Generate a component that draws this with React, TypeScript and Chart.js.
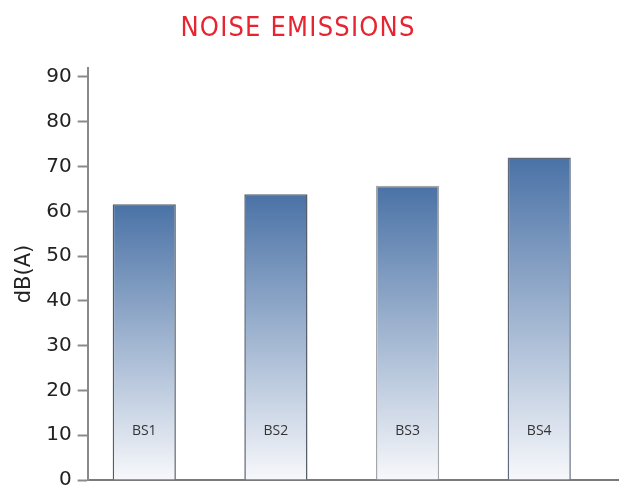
import { useEffect, useRef } from "react";
import { Chart, registerables } from "chart.js";

Chart.register(...registerables);

const chartTitle = "NOISE EMISSIONS";
const yAxisTitle = "dB(A)";
const categories = ["BS1", "BS2", "BS3", "BS4"];
const noiseValues = [61.6, 63.8, 65.7, 72.0];
const yMin = 0;
const yMax = 92;
const yStep = 10;
const barBorderColors = ["#555d69", "#555d69", "#a3a6aa", "#5f6b7c"];

const titlePlugin = {
  id: "pageTitle",
  afterDraw(chart: any) {
    const { ctx } = chart;
    ctx.save();
    ctx.font = '27px "Liberation Sans Narrow", "DejaVu Sans Condensed", sans-serif';
    try {
      (ctx as any).letterSpacing = "1.2px";
    } catch (e) {}
    ctx.fillStyle = "#e62530";
    ctx.textAlign = "center";
    ctx.textBaseline = "alphabetic";
    ctx.fillText(chartTitle, 298, 36);
    ctx.restore();
  },
};

const barLabelPlugin = {
  id: "barLabels",
  afterDatasetsDraw(chart: any) {
    const { ctx, scales } = chart;
    const meta = chart.getDatasetMeta(0);
    const y = scales.y.getPixelForValue(10) - 4;
    ctx.save();
    ctx.font = '14px "Open Sans", "DejaVu Sans", sans-serif';
    ctx.fillStyle = "#333333";
    ctx.textAlign = "center";
    ctx.textBaseline = "middle";
    meta.data.forEach((bar: any, i: number) => {
      ctx.fillText(categories[i], bar.x, y);
    });
    ctx.restore();
  },
};

export default function App() {
  const canvasRef = useRef<HTMLCanvasElement | null>(null);

  useEffect(() => {
    const canvas = canvasRef.current;
    if (!canvas) return;
    const chart = new Chart(canvas, {
      type: "bar",
      data: {
        datasets: [
          {
            data: noiseValues.map((v, i) => ({ x: i, y: v })),
            backgroundColor: (c: any) => {
              const ch = c.chart;
              const { ctx, chartArea, scales } = ch;
              if (!chartArea || c.type !== "data" || !scales.y) return "#8fa6c6";
              const v = c.parsed ? c.parsed.y : noiseValues[c.dataIndex];
              const top = scales.y.getPixelForValue(v);
              const bottom = scales.y.getPixelForValue(0);
              const g = ctx.createLinearGradient(0, top, 0, bottom);
              g.addColorStop(0, "#4a72a6");
              g.addColorStop(1, "#f7f8fb");
              return g;
            },
            borderColor: barBorderColors,
            borderWidth: 1.5,
            barPercentage: 0.48,
            categoryPercentage: 1,
          },
        ],
      },
      options: {
        responsive: false,
        animation: false,
        layout: { padding: { top: 68, left: 0, right: 0, bottom: 0 } },
        plugins: {
          legend: { display: false },
          tooltip: { enabled: false },
          title: { display: false },
        },
        scales: {
          x: {
            type: "linear",
            offset: false,
            min: -0.43,
            max: 3.606,
            ticks: { display: false, stepSize: 1, includeBounds: false },
            grid: { display: false, drawTicks: false, offset: false },
            border: { display: true, color: "#7a7a7a", width: 2 },
          },
          y: {
            min: yMin,
            max: yMax,
            ticks: {
              stepSize: yStep,
              includeBounds: false,
              color: "#222222",
              padding: 6,
              font: { family: "DejaVu Sans", size: 20 },
            },
            grid: {
              drawOnChartArea: false,
              drawTicks: true,
              tickLength: 10,
              tickColor: "#8a8a8a",
              tickWidth: 2,
            },
            border: { display: true, color: "#8a8a8a", width: 2 },
            title: {
              display: true,
              text: yAxisTitle,
              color: "#222222",
              font: { family: "DejaVu Sans", size: 21 },
              padding: { top: 12, bottom: 3 },
            },
          },
        },
      } as any,
      plugins: [titlePlugin, barLabelPlugin],
    });
    return () => chart.destroy();
  }, []);

  return (
    <div
      style={{
        position: "absolute",
        left: 0,
        top: 0,
        width: 619,
        height: 485,
        overflow: "hidden",
        background: "#ffffff",
      }}
    >
      <canvas ref={canvasRef} width={619} height={498} style={{ display: "block" }} />
    </div>
  );
}
